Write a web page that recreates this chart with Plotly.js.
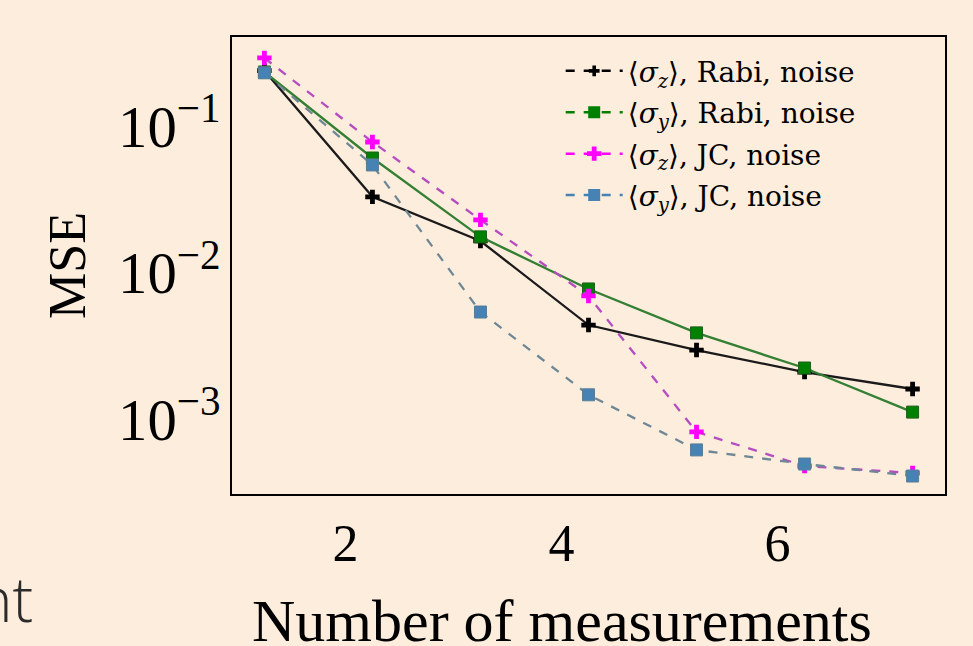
<!DOCTYPE html>
<html>
<head>
<meta charset="utf-8">
<script src="https://cdn.plot.ly/plotly-3.0.1.min.js"></script>
<style>
  html, body { margin: 0; padding: 0; background: #fdeddd; }
  #chart { width: 973px; height: 646px; }
</style>
</head>
<body>
<div id="chart"></div>
<script>
// Number of measurements
const measurements = [1, 2, 3, 4, 5, 6, 7];
// MSE values
const szRabi = [0.240, 0.0330, 0.0165, 0.00440, 0.00297, 0.00210, 0.00161];
const syRabi = [0.235, 0.0608, 0.0176, 0.00776, 0.00389, 0.00224, 0.00112];
const szJC   = [0.293, 0.0782, 0.0230, 0.00695, 0.00082, 0.00048, 0.00043];
const syJC   = [0.232, 0.0545, 0.0054, 0.00147, 0.000618, 0.000495, 0.00041];
const legendNames = [
  '⟨<i>σ</i><sub><i>z</i></sub>⟩, Rabi, noise',
  '⟨<i>σ</i><sub><i>y</i></sub>⟩, Rabi, noise',
  '⟨<i>σ</i><sub><i>z</i></sub>⟩, JC, noise',
  '⟨<i>σ</i><sub><i>y</i></sub>⟩, JC, noise'
];
const xTicks = [2, 4, 6];
const xTitle = 'Number of measurements';
const yTitle = 'MSE';

const serif = 'Liberation Serif';
const legendSerif = 'DejaVu Serif';

const traces = [
  {x: measurements, y: szRabi, mode: 'lines+markers', showlegend: false,
   line: {color: '#1a1a1a', width: 2.3},
   marker: {symbol: 'cross', size: 12, color: '#000000'}},
  {x: measurements, y: syRabi, mode: 'lines+markers', showlegend: false,
   line: {color: '#337f33', width: 2.3},
   marker: {symbol: 'square', size: 12, color: '#008000', line: {color: '#1f5f1f', width: 1}}},
  {x: measurements, y: szJC, mode: 'lines+markers', showlegend: false,
   line: {color: '#b54cc0', width: 2.3, dash: 'dash'},
   marker: {symbol: 'cross', size: 12, color: '#ff00ff'}},
  {x: measurements, y: syJC, mode: 'lines+markers', showlegend: false,
   line: {color: '#6e8794', width: 2.3, dash: 'dash'},
   marker: {symbol: 'square', size: 12, color: '#4682b4', line: {color: '#5a7f95', width: 1}}},
  // legend-only entries (dashed style as drawn in the legend); a null point draws nothing
  {x: [null], y: [null], mode: 'lines+markers', name: legendNames[0], legendgroup: 'a',
   line: {color: '#000000', width: 2.5, dash: 'dash'}, marker: {symbol: 'cross', size: 9, color: '#000000'}},
  {x: [null], y: [null], mode: 'lines+markers', name: legendNames[1], legendgroup: 'b',
   line: {color: '#008000', width: 2.5, dash: 'dash'}, marker: {symbol: 'square', size: 12, color: '#008000'}},
  {x: [null], y: [null], mode: 'lines+markers', name: legendNames[2], legendgroup: 'c',
   line: {color: '#ff00ff', width: 2.5, dash: 'dash'}, marker: {symbol: 'cross', size: 12, color: '#ff00ff'}},
  {x: [null], y: [null], mode: 'lines+markers', name: legendNames[3], legendgroup: 'd',
   line: {color: '#4682b4', width: 2.5, dash: 'dash'}, marker: {symbol: 'square', size: 12, color: '#4682b4'}}
];

const layout = {
  width: 973, height: 646,
  paper_bgcolor: '#fdeddd', plot_bgcolor: '#fdeddd',
  margin: {l: 232, r: 28, t: 37, b: 152, pad: 0},
  font: {family: serif, color: '#000'},
  showlegend: true,
  legend: {
    x: 0.461, y: 0.98, xanchor: 'left', yanchor: 'top',
    bgcolor: 'rgba(0,0,0,0)', borderwidth: 0,
    font: {family: legendSerif, size: 28, color: '#000'},
    itemwidth: 57, tracegroupgap: 2
  },
  xaxis: {
    range: [0.7, 7.3], tickmode: 'array', tickvals: xTicks,
    showgrid: false, zeroline: false, showline: true, mirror: true,
    linecolor: '#000', linewidth: 2, ticks: '',
    tickfont: {family: serif, size: 52, color: '#000'},
    ticklabelshift: -27, ticklabelstandoff: 3
  },
  yaxis: {
    type: 'log', range: [-3.51, -0.39], dtick: 1, tick0: 0,
    exponentformat: 'power',
    showgrid: false, zeroline: false, showline: true, mirror: true,
    linecolor: '#000', linewidth: 2, ticks: '',
    tickfont: {family: serif, size: 47, color: '#000'},
    ticklabelstandoff: 0,
    title: {text: yTitle, font: {family: serif, size: 52, color: '#000'}, standoff: 16}
  },
  annotations: [
    {text: xTitle, xref: 'paper', yref: 'paper', x: (562 - 232) / 713, y: (494 - 586) / 457,
     xanchor: 'center', yanchor: 'top', showarrow: false,
     font: {family: serif, size: 60, color: '#000'}},
    {text: 'nt', xref: 'paper', yref: 'paper', x: (35 - 232) / 713, y: (494 - 598) / 457,
     xanchor: 'right', yanchor: 'middle', showarrow: false,
     font: {family: 'Open Sans, sans-serif', size: 62, color: '#2b2b2b', weight: 300}}
  ]
};

Plotly.newPlot('chart', traces, layout, {displayModeBar: false, staticPlot: true});
</script>
</body>
</html>
